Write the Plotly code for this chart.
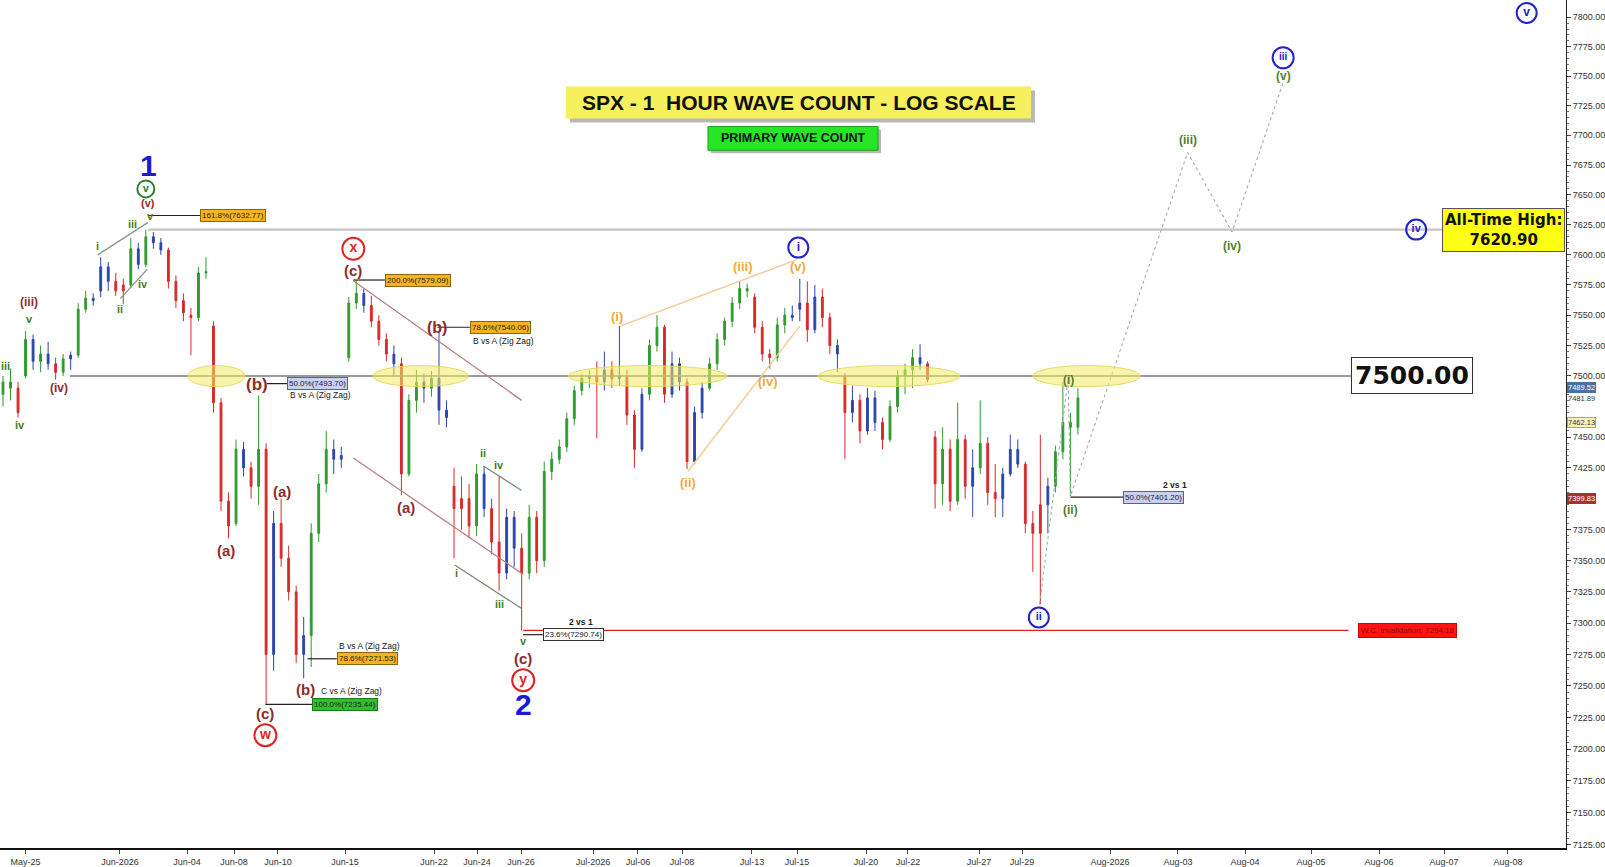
import numpy as np
import plotly.graph_objects as go

# ---------------- data (hourly-ish bars, 3 per session) ----------------
bar_open = [7485, 7495, 7490, 7500, 7530, 7512, 7518, 7510, 7503, 7514,
            7517, 7555, 7564, 7570, 7590, 7578, 7570, 7575, 7605, 7592,
            7615, 7610, 7604, 7578, 7562, 7550, 7548, 7585, 7541, 7478,
            7398, 7380, 7440, 7425, 7410, 7440, 7275, 7380, 7352, 7325,
            7275, 7290, 7372, 7412, 7440, 7432, 7515, 7560, 7568, 7558,
            7545, 7530, 7518, 7510, 7420, 7480, 7495, 7490, 7498, 7472,
            7410, 7392, 7400, 7378, 7420, 7392, 7365, 7340, 7385, 7360,
            7340, 7385, 7350, 7422, 7432, 7442, 7465, 7488, 7498, 7500,
            7495, 7505, 7498, 7500, 7468, 7440, 7485, 7525, 7540, 7485,
            7510, 7495, 7430, 7470, 7490, 7510, 7530, 7545, 7560, 7572,
            7565, 7540, 7518, 7515, 7542, 7550, 7555, 7560, 7538, 7565,
            7548, 7525, 7500, 7470, 7480, 7455, 7482, 7462, 7448, 7475,
            7500, 7505, 7515, 7510, 7450, 7412, 7440, 7398, 7448, 7410,
            7425, 7445, 7405, 7400, 7420, 7440, 7428, 7380, 7372, 7395,
            7410, 7438, 7462, 7458]
bar_high = [7500, 7506, 7495, 7537, 7534, 7525, 7528, 7515, 7518, 7520,
            7560, 7570, 7568, 7598, 7594, 7585, 7580, 7614, 7610, 7621,
            7619, 7614, 7606, 7583, 7568, 7556, 7590, 7598, 7545, 7482,
            7405, 7448, 7446, 7430, 7484, 7445, 7390, 7400, 7362, 7330,
            7305, 7380, 7420, 7455, 7448, 7442, 7565, 7579, 7572, 7566,
            7550, 7535, 7525, 7515, 7485, 7505, 7502, 7504, 7536, 7480,
            7425, 7418, 7412, 7428, 7426, 7400, 7418, 7392, 7390, 7372,
            7395, 7390, 7430, 7438, 7448, 7470, 7492, 7502, 7505, 7512,
            7520, 7512, 7541, 7505, 7472, 7490, 7530, 7550, 7542, 7520,
            7515, 7498, 7475, 7495, 7515, 7535, 7548, 7565, 7578, 7576,
            7568, 7545, 7522, 7548, 7556, 7558, 7580, 7578, 7575, 7572,
            7552, 7530, 7502, 7492, 7485, 7490, 7488, 7466, 7480, 7505,
            7510, 7522, 7526, 7512, 7455, 7458, 7448, 7478, 7452, 7440,
            7480, 7450, 7428, 7425, 7452, 7448, 7430, 7390, 7452, 7417,
            7443, 7495, 7470, 7490]
bar_low = [7475, 7480, 7466, 7498, 7505, 7503, 7505, 7497, 7500, 7505,
           7515, 7552, 7558, 7565, 7570, 7566, 7559, 7573, 7588, 7590,
           7605, 7600, 7572, 7556, 7545, 7517, 7545, 7580, 7470, 7390,
           7368, 7378, 7418, 7400, 7395, 7235, 7262, 7345, 7318, 7268,
           7256, 7265, 7365, 7405, 7420, 7425, 7512, 7555, 7552, 7540,
           7525, 7512, 7500, 7403, 7418, 7470, 7478, 7483, 7460, 7458,
           7352, 7375, 7368, 7370, 7385, 7355, 7326, 7335, 7345, 7294,
           7335, 7340, 7345, 7415, 7428, 7438, 7460, 7484, 7490, 7449,
           7488, 7490, 7492, 7460, 7425, 7438, 7480, 7520, 7478, 7482,
           7488, 7424, 7428, 7465, 7488, 7505, 7525, 7540, 7555, 7565,
           7535, 7512, 7506, 7512, 7535, 7545, 7545, 7528, 7535, 7540,
           7518, 7503, 7432, 7462, 7445, 7452, 7455, 7440, 7446, 7470,
           7485, 7490, 7505, 7495, 7392, 7395, 7390, 7395, 7400, 7385,
           7420, 7395, 7385, 7385, 7418, 7425, 7372, 7341, 7315, 7372,
           7405, 7432, 7402, 7452]
bar_close = [7495, 7490, 7470, 7530, 7512, 7518, 7510, 7503, 7514, 7517,
             7555, 7564, 7562, 7590, 7578, 7570, 7575, 7605, 7592, 7615,
             7610, 7604, 7578, 7562, 7552, 7548, 7585, 7586, 7478, 7398,
             7378, 7440, 7425, 7410, 7440, 7275, 7380, 7352, 7325, 7275,
             7290, 7372, 7412, 7440, 7432, 7435, 7560, 7568, 7558, 7545,
             7530, 7518, 7510, 7420, 7480, 7495, 7490, 7498, 7472, 7466,
             7392, 7400, 7378, 7420, 7392, 7365, 7340, 7385, 7360, 7340,
             7385, 7350, 7422, 7432, 7442, 7465, 7488, 7498, 7500, 7495,
             7505, 7498, 7500, 7468, 7440, 7485, 7525, 7540, 7485, 7510,
             7495, 7430, 7470, 7490, 7510, 7530, 7545, 7560, 7572, 7570,
             7540, 7518, 7515, 7542, 7550, 7548, 7560, 7538, 7565, 7548,
             7525, 7518, 7470, 7480, 7455, 7482, 7462, 7448, 7475, 7500,
             7505, 7515, 7510, 7497, 7412, 7440, 7398, 7448, 7410, 7425,
             7445, 7405, 7400, 7420, 7440, 7428, 7380, 7372, 7395, 7410,
             7438, 7462, 7458, 7482]
# trend state per bar: 1 = bullish (green), -1 = bearish (red), 0 = neutral (blue)
bar_signal = [1, 1, -1, 1, 0, 1, 0, -1, 1, 0,
              1, 1, 0, 0, 0, -1, -1, 1, 0, 1,
              0, 0, -1, -1, -1, -1, 1, 1, -1, -1,
              -1, 1, 0, -1, 1, -1, 0, -1, -1, -1,
              0, 1, 1, 1, 0, 0, 1, 1, 0, -1,
              -1, -1, 0, -1, 1, 1, 0, 1, 0, 0,
              -1, -1, -1, 1, 0, -1, -1, 0, 0, -1,
              1, -1, 1, 1, 1, 1, 1, 1, 1, -1,
              0, -1, 0, -1, -1, 0, 1, 1, -1, 0,
              0, -1, 0, 0, 1, 1, 1, 1, 1, 1,
              -1, -1, -1, 1, 1, 0, 0, -1, 0, -1,
              -1, 0, -1, 0, -1, 0, 0, -1, 1, 1,
              1, 1, 0, -1, -1, 1, -1, 1, -1, 0,
              1, -1, -1, 0, 0, 0, -1, -1, -1, 0,
              1, 1, 1, 1]

date_labels = ["May-25", "Jun-2026", "Jun-04", "Jun-08", "Jun-10", "Jun-15", "Jun-22",
               "Jun-24", "Jun-26", "Jul-2026", "Jul-06", "Jul-08", "Jul-13", "Jul-15",
               "Jul-20", "Jul-22", "Jul-27", "Jul-29", "Aug-2026", "Aug-03", "Aug-04",
               "Aug-05", "Aug-06", "Aug-07", "Aug-08"]
date_bar_pos = [3.0, 15.56, 24.48, 30.73, 36.58, 45.5, 57.34, 63.06, 68.91, 78.49,
                84.47, 90.33, 99.64, 105.63, 114.81, 120.39, 129.84, 135.56, 147.27,
                156.31, 165.23, 174.01, 183.06, 191.7, 200.21]

price_ticks = list(range(7125, 7801, 25))
price_minor = list(range(7125, 7801, 5))

# key levels
level_round = 7500.00
level_ath = 7620.90
level_invalid = 7294.18

# fibonacci readouts
fib_levels = [7632.77, 7579.09, 7540.06, 7493.70, 7271.53, 7235.44, 7290.74, 7401.20]
fib_texts = ["161.8%(7632.77)", "200.0%(7579.09)", "78.6%(7540.06)", "50.0%(7493.70)",
             "78.6%(7271.53)", "100.0%(7235.44)", "23.6%(7290.74)", "50.0%(7401.20)"]
fib_kind = ["o", "o", "o", "b", "o", "g", "w", "b"]
fib_from_bar = [19.3, 46.6, 57.8, 35.1, 40.5, 34.9, 69.2, 142.0]
fib_box_bar = [26.2, 50.8, 62.1, 37.8, 44.4, 41.1, 71.8, 149.0]

# right-axis price tags
tag_values = [7489.52, 7481.89, 7462.13, 7399.83]

# ---------------- figure ----------------
N = len(bar_close)
xb = np.arange(N)
L = np.log10
FONT = "Arial, Liberation Sans, sans-serif"
VFONT = "DejaVu Sans, Verdana, sans-serif"

fig = go.Figure()
col_map = {1: "#2f9a2f", -1: "#d62a2a", 0: "#2b46aa"}
for s, col in col_map.items():
    idx = [i for i in range(N) if bar_signal[i] == s]
    fig.add_trace(go.Candlestick(
        x=xb[idx],
        open=[bar_open[i] for i in idx], high=[bar_high[i] for i in idx],
        low=[bar_low[i] for i in idx], close=[bar_close[i] for i in idx],
        increasing=dict(line=dict(color=col, width=1), fillcolor=col),
        decreasing=dict(line=dict(color=col, width=1), fillcolor=col),
        whiskerwidth=0, hoverinfo="skip", showlegend=False))


def seg(xs, ys, color, width=1.2, dash="solid"):
    fig.add_trace(go.Scatter(x=xs, y=ys, mode="lines",
                             line=dict(color=color, width=width, dash=dash),
                             hoverinfo="skip", showlegend=False))


# horizontal key levels
seg([8.9, 180.4], [level_round, level_round], "#7a7a7a", 1.6)
seg([19.3, 191.6], [level_ath, level_ath], "#c4c4c4", 2.2)
seg([69.2, 179.0], [level_invalid, level_invalid], "#e02020", 1.4)

# fib leader lines
for lv, x0, x1 in zip(fib_levels, fib_from_bar, fib_box_bar):
    seg([x0, x1], [lv, lv], "#222222", 1.2)

# channel / diagonal lines
seg([12.6, 19.3], [7600, 7627], "#8a9a88", 1.3)
seg([15.6, 19.2], [7563.7, 7588], "#8a9a88", 1.3)
seg([46.6, 69.0], [7578.5, 7480], "#b98080", 1.3)
seg([46.6, 69.2], [7433, 7339], "#b98080", 1.3)
seg([63.9, 69.0], [7426.5, 7406.6], "#6f8a6f", 1.2)
seg([60.1, 69.0], [7346.6, 7311.6], "#6f8a6f", 1.2)
seg([82.1, 105.6], [7541, 7596], "#f6c990", 1.4)
seg([91.1, 106.0], [7422, 7541], "#f6c990", 1.4)

# projected path (dotted)
seg([137.9, 141.7, 142.0, 157.6, 163.5, 170.3],
    [7315, 7498, 7402, 7685.6, 7619, 7744.4], "#aaaaaa", 1.1, "dot")

# circled wave labels
circ = [("v", 19.0, 7655, "#2e7d32", 17, 11),
        ("x", 46.6, 7605, "#e02222", 22, 14),
        ("w", 34.9, 7211, "#e02222", 22, 14),
        ("y", 69.2, 7254.5, "#e02222", 22, 14),
        ("i", 105.8, 7606, "#2323c8", 20, 12),
        ("ii", 137.8, 7304.5, "#2323c8", 20, 11),
        ("iii", 170.3, 7765.6, "#2323c8", 21, 10),
        ("iv", 188.0, 7621, "#2323c8", 20, 11),
        ("v", 202.7, 7803.7, "#2323c8", 20, 12)]
for t, bx, py, c, ms, fs in circ:
    fig.add_trace(go.Scatter(
        x=[bx], y=[py], mode="markers+text", text=["<b>%s</b>" % t],
        textposition="middle center", textfont=dict(color=c, size=fs, family=FONT),
        marker=dict(symbol="circle-open", size=ms, color=c, line=dict(width=2, color=c)),
        hoverinfo="skip", showlegend=False))

annotations = []


def lab(text, bx, py, color, size, family=FONT):
    annotations.append(dict(x=bx, y=L(py), xref="x", yref="y", text="<b>%s</b>" % text,
                            showarrow=False, font=dict(color=color, size=size, family=family)))


green_s = "#3f7f2a"
for t, bx, py in [("iii", 0.3, 7508), ("iv", 2.3, 7460), ("v", 3.5, 7547), ("i", 12.6, 7607),
                  ("ii", 15.6, 7555), ("iii", 17.2, 7626), ("iv", 18.6, 7576), ("v", 19.6, 7632),
                  ("i", 60.3, 7340), ("ii", 63.9, 7437), ("iii", 66.1, 7315), ("iv", 66.0, 7427),
                  ("v", 69.2, 7286)]:
    lab(t, bx, py, green_s, 11)

brown = "#8e2c2c"
for t, bx, py, sz in [("(iii)", 3.5, 7561, 12), ("(iv)", 7.45, 7490, 12), ("(v)", 19.3, 7643, 11),
                      ("(b)", 33.8, 7493, 17), ("(a)", 29.7, 7358, 15), ("(a)", 37.1, 7406, 15),
                      ("(c)", 34.9, 7228, 15), ("(b)", 40.2, 7247, 15), ("(c)", 46.6, 7587, 15),
                      ("(a)", 53.6, 7393, 15), ("(b)", 57.7, 7540, 16), ("(c)", 69.2, 7272, 15)]:
    lab(t, bx, py, brown, sz)

orange = "#f0aa3a"
for t, bx, py in [("(i)", 81.7, 7549), ("(ii)", 91.1, 7413), ("(iii)", 98.4, 7590),
                  ("(iv)", 101.8, 7495.4), ("(v)", 105.8, 7590)]:
    lab(t, bx, py, orange, 13)

green2 = "#4f7f2f"
for t, bx, py in [("(i)", 141.7, 7497), ("(ii)", 142.0, 7391), ("(iii)", 157.6, 7696),
                  ("(iv)", 163.5, 7607), ("(v)", 170.3, 7750)]:
    lab(t, bx, py, green2, 12)

lab("1", 19.3, 7675, "#1b1bd6", 30)
lab("2", 69.2, 7235, "#1b1bd6", 30)

# small captions
for t, bx, py in [("B vs A (Zig Zag)", 66.6, 7529), ("B vs A (Zig Zag)", 42.3, 7484),
                  ("B vs A (Zig Zag)", 48.8, 7282), ("C vs A (Zig Zag)", 46.4, 7246)]:
    annotations.append(dict(x=bx, y=L(py), text=t, showarrow=False,
                            font=dict(size=8.5, color="#222222", family=FONT)))
for bx, py in [(76.9, 7301), (155.9, 7411)]:
    annotations.append(dict(x=bx, y=L(py), text="<b>2 vs 1</b>", showarrow=False,
                            font=dict(size=8.5, color="#222222", family=FONT)))

# fib boxes
kind_style = {"o": ("#f5b41e", "#8a6410"), "b": ("#c9d0f4", "#55609a"),
              "g": ("#2fc02f", "#1a7a1a"), "w": ("#ffffff", "#333333")}
for lv, t, k, bx in zip(fib_levels, fib_texts, fib_kind, fib_box_bar):
    bg, bd = kind_style[k]
    annotations.append(dict(x=bx, y=L(lv), text=t, showarrow=False, xanchor="left",
                            bgcolor=bg, bordercolor=bd, borderwidth=1, borderpad=1,
                            font=dict(size=8, color="#222222", family=FONT)))

# big boxes
annotations.append(dict(x=187.4, y=L(level_round), text="<b>%.2f</b>" % level_round,
                        showarrow=False, bgcolor="#ffffff", bordercolor="#333333",
                        borderwidth=1, borderpad=3, font=dict(size=25, color="#111111", family=VFONT)))
annotations.append(dict(x=199.6, y=L(level_ath), text="<b>All-Time High:<br>%.2f</b>" % level_ath,
                        showarrow=False, bgcolor="#ffff14", bordercolor="#555555",
                        borderwidth=1, borderpad=2, font=dict(size=15, color="#111111", family=VFONT)))
annotations.append(dict(x=186.8, y=L(level_invalid), text="W.C. invalidation: %.2f" % level_invalid,
                        showarrow=False, bgcolor="#ff1414", bordercolor="#d00000",
                        borderwidth=1, borderpad=2, font=dict(size=8, color="#9a0000", family=FONT)))

# right-axis price tags
tag_style = [("#46749e", "#ffffff", "#46749e", 1), ("rgba(255,255,255,0)", "#333333", "rgba(0,0,0,0)", 0),
             ("#f7f3b5", "#333333", "#b0a860", 0), ("#a83232", "#ffffff", "#a83232", 0)]
for v, (bg, fc, bd, ys) in zip(tag_values, tag_style):
    annotations.append(dict(x=1.0, xref="paper", y=L(v), yref="y", xanchor="left", xshift=1,
                            yshift=ys, text="%.2f" % v, showarrow=False, bgcolor=bg,
                            bordercolor=bd, borderwidth=1, borderpad=0,
                            font=dict(size=7.5, color=fc, family=FONT)))

# axis labels hidden behind the price tags in the original
covered_ticks = [7400, 7475]
price_ticktext = ["" if v in covered_ticks else "%.2f" % v for v in price_ticks]

# title boxes (paper coords)
annotations.append(dict(x=0.5099, y=0.8791, xref="paper", yref="paper", xanchor="center",
                        yanchor="middle", text="<b>SPX - 1  HOUR WAVE COUNT - LOG SCALE</b>",
                        showarrow=False, font=dict(size=21, color="#111111", family=FONT)))
annotations.append(dict(x=0.5064, y=0.8369, xref="paper", yref="paper", xanchor="center",
                        yanchor="middle", text="<b>PRIMARY WAVE COUNT</b>", showarrow=False,
                        font=dict(size=12.5, color="#111111", family=FONT)))

shapes = [
    dict(type="rect", xref="paper", yref="paper", x0=0.3640, x1=0.6609, y0=0.8556, y1=0.8932,
         fillcolor="#9a9a9a", line=dict(width=0), layer="above", opacity=0.7),
    dict(type="rect", xref="paper", yref="paper", x0=0.3614, x1=0.6584, y0=0.8603, y1=0.8979,
         fillcolor="#f6f05c", line=dict(width=0), layer="above"),
    dict(type="rect", xref="paper", yref="paper", x0=0.4540, x1=0.5626, y0=0.8192, y1=0.8474,
         fillcolor="#9a9a9a", line=dict(width=0), layer="above", opacity=0.7),
    dict(type="rect", xref="paper", yref="paper", x0=0.4521, x1=0.5607, y0=0.8228, y1=0.8509,
         fillcolor="#26e626", line=dict(width=1, color="#1aa01a"), layer="above"),
]
for x0, x1 in [(24.6, 32.2), (49.2, 61.9), (75.2, 96.3), (108.4, 127.3), (137.0, 151.3)]:
    shapes.append(dict(type="circle", xref="x", yref="y", x0=x0, x1=x1, y0=7491.3, y1=7508.5,
                       fillcolor="rgba(242,236,100,0.55)", line=dict(color="rgba(225,215,90,0.9)", width=1),
                       layer="above"))

fig.update_layout(
    width=1605, height=867,
    margin=dict(l=0, r=39, t=0, b=15),
    paper_bgcolor="white", plot_bgcolor="white",
    showlegend=False,
    boxgap=0.65,
    annotations=annotations, shapes=shapes,
    xaxis=dict(range=[-0.4, 207.93], rangeslider=dict(visible=False), showgrid=False,
               zeroline=False, tickmode="array", tickvals=date_bar_pos, ticktext=date_labels,
               ticks="outside", ticklen=4, tickcolor="#444", showline=True, linecolor="#111",
               linewidth=1.5, tickfont=dict(size=9, color="#333", family="Liberation Sans Narrow, Arial Narrow, Arial, sans-serif")),
    yaxis=dict(type="log", side="right", range=[L(7122.6), L(7814.8)], showgrid=False,
               zeroline=False, tickmode="array", tickvals=price_ticks,
               ticktext=price_ticktext, ticks="outside", ticklen=4,
               tickcolor="#444", showline=True, linecolor="#222", linewidth=1,
               tickfont=dict(size=9, color="#333", family=FONT),
               minor=dict(tickmode="array", tickvals=price_minor, ticks="outside", ticklen=2,
                          tickcolor="#777")),
)

fig.write_html("out.html")
